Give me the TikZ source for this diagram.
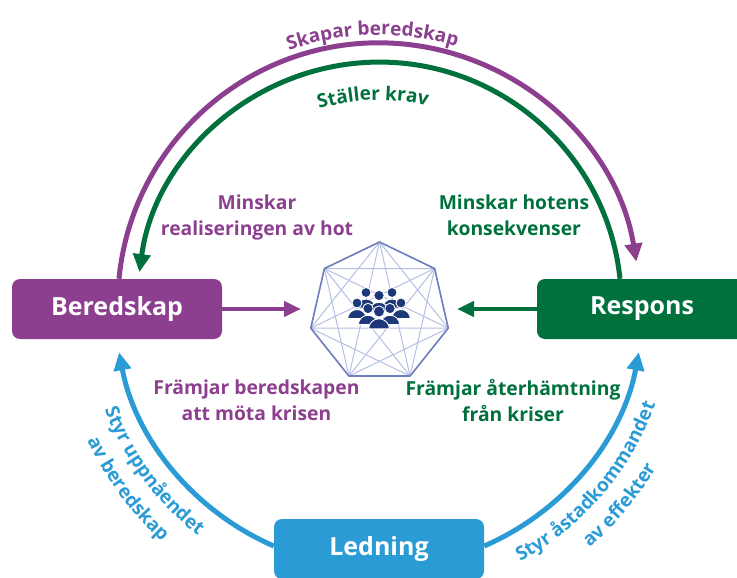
\documentclass[tikz,border=0pt]{standalone}
\usepackage{fontspec}
\setmainfont{Open Sans}
\usetikzlibrary{arrows.meta,decorations.text,backgrounds}
\definecolor{vpurple}{HTML}{8C3F8F}
\definecolor{vgreen}{HTML}{00703C}
\definecolor{vblue}{HTML}{2B9BD6}
\definecolor{vnavy}{HTML}{1D3878}
\definecolor{hepout}{HTML}{6F7FBD}
\definecolor{hepin}{HTML}{B4BFE3}
\newcommand\dgfont{\fontsize{19}{24}\selectfont\bfseries}
\tikzset{
 box/.style={rounded corners=8pt, minimum width=210pt, minimum height=60pt, inner sep=0pt, text=white, font=\fontsize{25}{30}\selectfont\bfseries},
 lbl/.style={font=\fontsize{19.3}{26}\selectfont\bfseries, align=center, inner sep=0pt},
 ring/.style={line width=5pt},
 bigtip/.style={-{Triangle[width=17pt,length=18pt]}},
 flat/.style={line width=4.5pt, -{Triangle[width=15pt,length=17pt]}},
 person/.style={fill=vnavy, draw=white, line width=0.9pt},
}
\begin{document}
\begin{tikzpicture}[x=1pt,y=-1pt]
\useasboundingbox (0,0) rectangle (737,578);
\coordinate (C) at (379,304);
% boxes
\node[box, fill=vpurple] (ber) at (117,309) {Beredskap};
\node[box, fill=vgreen] (res) at (642,309) {Respons};
\node[box, fill=vblue] (led) at (379,549) {Ledning};
% rings
\begin{scope}[on background layer]
\draw[ring, vpurple, bigtip] ([xshift=2pt]ber.north) arc[start angle=185.5, end angle=350.7, radius=261];
\draw[ring, vgreen, bigtip] ([xshift=-22pt]res.north) arc[start angle=354, end angle=187.6, radius=242];
\draw[ring, vblue, bigtip] ([yshift=3pt]led.west) arc[start angle=113.4, end angle=169.4, radius=264];
\draw[ring, vblue, bigtip] ([yshift=3pt]led.east) arc[start angle=66.6, end angle=10.6, radius=264];
\end{scope}
% heptagon
\coordinate (hc) at (379.5,312.5);
\foreach \i in {0,...,6}{ \path (hc) ++({270+\i*360/7}:70.5) coordinate (h\i); }
\foreach \i in {0,...,5}{
  \pgfmathtruncatemacro\nx{\i+1}
  \foreach \j in {\nx,...,6}{ \draw[hepin, line width=1pt] (h\i) -- (h\j); }
}
\draw[hepout, line width=1.6pt, line join=round] (h0) -- (h1) -- (h2) -- (h3) -- (h4) -- (h5) -- (h6) -- cycle;
% people icon
\foreach \px/\py/\r in {366/292.5/5, 392/292.5/5, 379/295.5/5.2, 357/303/5, 401/303/5, 368/308.5/5.2, 390/308.5/5.2, 379/311.5/5.6}{
  \filldraw[person] ({\px-1.85*\r},{\py+3.1*\r}) arc[start angle=180, end angle=360, x radius={1.85*\r}, y radius={1.8*\r}] -- cycle;
  \filldraw[person] (\px,\py) circle[radius=\r];
}
% horizontal arrows
\coordinate (pin) at (301,309);
\coordinate (gin) at (457,309);
\draw[flat, vpurple] (ber.east) -- (pin);
\draw[flat, vgreen] (res.west) -- (gin);
% curved labels
\path[decorate, decoration={text along path, text align=center, text={|\dgfont\color{vpurple}|Skapar beredskap}}] (C) ++(228.6:269) arc[start angle=228.6, end angle=308.6, radius=269];
\path[decorate, decoration={text along path, text align=center, text={|\dgfont\color{vgreen}|Ställer krav}}] (C) ++(228.3:204) arc[start angle=228.3, end angle=308.3, radius=204];
\path[decorate, decoration={text along path, text align=center, text={|\dgfont\color{vblue}|Styr uppnåendet}}] (C) ++(178.5:294) arc[start angle=178.5, end angle=108.5, radius=294];
\path[decorate, decoration={text along path, text align=center, text={|\dgfont\color{vblue}|av beredskap}}] (C) ++(178.7:322) arc[start angle=178.7, end angle=108.7, radius=322];
\path[decorate, decoration={text along path, text align=center, text={|\dgfont\color{vblue}|Styr åstadkommandet}}] (C) ++(75.6:294) arc[start angle=75.6, end angle=5.6, radius=294];
\path[decorate, decoration={text along path, text align=center, text={|\dgfont\color{vblue}|av effekter}}] (C) ++(74.9:322) arc[start angle=74.9, end angle=4.9, radius=322];
% inner labels
\node[lbl, text=vpurple] (m1) at (257,217.5) {Minskar\\realiseringen av hot};
\node[lbl, text=vgreen] (m2) at (514,215.6) {Minskar hotens\\konsekvenser};
\node[lbl, text=vpurple] (f1) at (256.5,400.6) {Främjar beredskapen\\att möta krisen};
\node[lbl, text=vgreen] (f2) at (513,400.6) {Främjar återhämtning\\från kriser};
\end{tikzpicture}
\end{document}
